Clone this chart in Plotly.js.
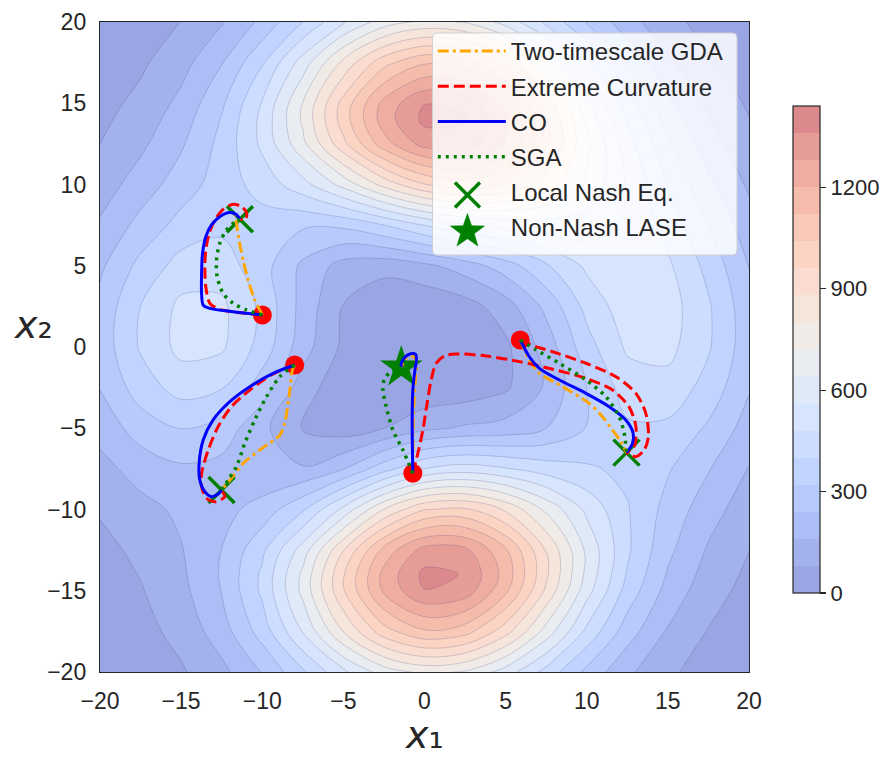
<!DOCTYPE html>
<html><head><meta charset="utf-8">
<script src="https://cdn.plot.ly/plotly-3.0.1.min.js"></script>
<style>html,body{margin:0;padding:0;background:#fff;} #chart{width:891px;height:760px;}</style>
</head><body><div id="chart"></div>
<script>
// grid of the surface (x1 columns, x2 rows)
const gridX = [-20,-17.5,-15,-12.5,-10,-7.5,-5,-2.5,0,2.5,5,7.5,10,12.5,15,17.5,20];
const gridY = [-20,-17.5,-15,-14,-12.5,-10,-7.5,-5,-2.5,0,2.5,5,7.5,10,12.5,14,15,17.5,20];
const surface = [
  [14,33,70,138,244,387,545,677,740,711,602,449,298,176,94,45,20],
  [24,52,106,202,355,565,803,1008,1111,1075,914,688,461,277,152,76,35],
  [38,74,136,243,416,662,953,1215,1358,1327,1138,865,591,368,211,112,55],
  [45,83,145,248,415,658,953,1226,1380,1356,1169,894,618,392,232,128,65],
  [57,98,155,241,382,598,877,1148,1312,1302,1132,878,623,413,258,151,81],
  [88,134,176,213,271,389,582,803,957,975,869,703,541,406,292,194,115],
  [133,193,227,214,175,167,237,368,483,519,487,441,411,382,328,245,156],
  [189,276,321,286,181,74,38,80,141,172,190,240,324,388,383,308,204],
  [243,360,432,405,278,121,21,1,15,28,67,171,321,436,451,370,247],
  [271,409,504,493,368,194,63,9,0,9,63,194,368,493,504,409,271],
  [263,400,499,497,381,211,76,17,15,45,122,261,425,528,518,410,267],
  [224,343,432,439,353,223,129,108,141,199,281,390,496,541,494,375,238],
  [170,266,348,382,364,331,337,399,483,549,587,605,600,550,450,319,194],
  [120,197,280,358,433,530,668,829,957,1001,954,844,704,551,397,257,147],
  [80,143,229,344,497,699,938,1167,1312,1321,1193,979,738,516,333,196,104],
  [62,117,201,325,502,734,1000,1240,1380,1370,1215,970,705,470,288,162,82],
  [52,101,181,306,486,723,990,1226,1358,1338,1175,926,660,430,256,140,69],
  [31,66,130,235,391,597,822,1013,1111,1081,934,719,497,310,175,90,42],
  [17,39,81,152,260,401,553,679,740,714,610,464,314,191,104,51,23]
];
const bandColors = ['rgb(154,165,227)','rgb(163,178,237)','rgb(172,190,245)','rgb(183,202,251)',
  'rgb(193,212,255)','rgb(204,221,255)','rgb(215,228,253)','rgb(224,233,248)','rgb(233,236,241)',
  'rgb(240,235,231)','rgb(246,229,219)','rgb(250,221,208)','rgb(251,212,196)','rgb(249,201,184)',
  'rgb(245,188,172)','rgb(239,173,162)','rgb(231,157,151)','rgb(220,137,142)'];
const levelMin = 0, levelMax = 1440, levelStep = 80;
const cbTicks = [0,300,600,900,1200];
const axisTicks = [-20,-15,-10,-5,0,5,10,15,20];

// start points, equilibria
const startX = [-9.99,-8.0,-0.72,5.9];
const startY = [1.97,-1.11,-7.77,0.43];
const nashX = [-11.38,-12.51,12.45];
const nashY = [7.86,-8.8,-6.5];
const laseX = [-1.43];
const laseY = [-1.25];

// trajectories (segments separated by null)
const gdaX = [-9.99,-10.46,-10.87,-11.18,-11.43,-11.59,-11.63,-11.38,null,-8.0,-8.14,-8.35,-8.62,-8.92,-10.15,-11.18,-11.9,-12.51,null,-0.72,-0.68,-0.55,-0.5,-0.7,-1.05,-1.3,-1.43,null,5.9,6.46,7.08,8.51,10.15,10.97,11.59,12.1,12.45];
const gdaY = [1.97,2.89,4.12,5.35,6.58,7.61,8.12,7.86,null,-1.11,-1.42,-3.06,-4.7,-5.42,-6.34,-7.16,-8.08,-8.8,null,-7.77,-4.0,-1.8,-0.9,-0.55,-0.6,-0.95,-1.25,null,0.43,-0.8,-1.62,-2.44,-3.47,-4.29,-5.11,-5.83,-6.5];
const ecX = [-9.99,-11.38,-12.62,-13.23,-13.48,-13.54,-13.48,-13.27,-12.92,-12.41,-11.79,-11.28,-10.97,-11.02,-11.38,null,-8.0,-9.44,-10.77,-11.9,-12.72,-13.33,-13.74,-13.74,-13.44,-12.92,-12.31,-12.51,null,-0.72,-0.41,-0.1,0.16,0.41,0.72,1.23,1.95,3.8,5.85,7.9,9.95,11.59,12.6,13.03,12.92,12.45,null,5.9,6.87,7.9,9.95,11.8,13.03,13.64,13.8,13.54,13.03,12.45];
const ecY = [1.97,2.11,2.32,2.69,3.71,4.94,5.97,7.0,7.82,8.47,8.78,8.64,8.27,7.86,7.86,null,-1.11,-1.72,-2.65,-3.67,-4.9,-6.34,-7.77,-8.6,-9.31,-9.52,-9.21,-8.8,null,-7.77,-6.54,-5.11,-3.47,-2.03,-1.0,-0.55,-0.43,-0.55,-0.9,-1.37,-1.93,-2.65,-3.67,-4.9,-6.13,-6.5,null,0.43,0.02,-0.29,-1.0,-1.83,-2.85,-4.08,-5.52,-6.34,-6.75,-6.5];
const coX = [-9.99,-11.79,-13.23,-13.64,-13.74,-13.74,-13.68,-13.48,-13.13,-12.62,-12.0,-11.6,-11.38,null,-8.0,-9.33,-10.77,-12.0,-13.03,-13.64,-13.89,-13.85,-13.54,-13.13,-12.72,-12.51,null,-0.72,-0.76,-0.72,-0.6,-0.5,-0.55,-0.85,-1.2,-1.43,-1.43,null,5.9,6.46,7.08,8.31,9.95,11.38,12.41,12.86,12.82,12.45];
const coY = [1.97,2.17,2.38,2.58,3.30,4.53,5.77,6.79,7.51,8.02,8.27,8.15,7.86,null,-1.11,-1.62,-2.44,-3.36,-4.49,-5.72,-7.16,-8.18,-8.9,-9.21,-9.05,-8.8,null,-7.77,-4.7,-2.65,-1.5,-0.8,-0.45,-0.42,-0.62,-1.0,-1.25,null,0.43,-0.6,-1.31,-2.03,-2.85,-3.67,-4.49,-5.31,-5.93,-6.5];
const sgaX = [-9.99,-10.97,-11.79,-12.41,-12.78,-12.82,-12.62,-12.21,-11.79,-11.38,null,-8.0,-8.92,-9.74,-10.46,-11.08,-11.59,-12.1,-12.51,null,-0.72,-1.33,-1.95,-2.36,-2.56,-2.46,-2.05,-1.43,null,5.9,6.87,8.31,9.95,11.18,12.0,12.31,12.45];
const sgaY = [1.97,2.28,2.69,3.30,4.33,5.35,6.38,7.2,7.61,7.86,null,-1.11,-1.83,-3.06,-4.49,-5.93,-7.36,-8.18,-8.8,null,-7.77,-6.34,-5.11,-3.67,-2.65,-1.93,-1.52,-1.25,null,0.43,-0.18,-1.0,-2.03,-3.06,-4.29,-5.31,-6.5];

const nBands = bandColors.length;
const contourScale = bandColors.map((c, k) => [k / (nBands - 1), c]);
const barScale = [];
bandColors.forEach((c, k) => { barScale.push([k / nBands, c]); barScale.push([(k + 1) / nBands, c]); });

const FONT = 'Arial, "Liberation Sans", sans-serif';
const TXT = '#262626';
const GREEN = 'green';

// ---- legend frame & large legend glyphs (layout decoration, in pixel units of the page) ----
const plotL = 100, plotT = 22, plotW = 650, plotH = 650;
const px2x = p => (p - plotL) / plotW;
const px2y = p => (plotT + plotH - p) / plotH;
function roundedBox(l, t, r, b, rad) {
  const x0 = px2x(l), x1 = px2x(r), y0 = px2y(b), y1 = px2y(t), rx = rad / plotW, ry = rad / plotH;
  return `M${x0+rx},${y1} L${x1-rx},${y1} Q${x1},${y1} ${x1},${y1-ry} L${x1},${y0+ry} Q${x1},${y0} ${x1-rx},${y0} ` +
         `L${x0+rx},${y0} Q${x0},${y0} ${x0},${y0+ry} L${x0},${y1-ry} Q${x0},${y1} ${x0+rx},${y1} Z`;
}
function starPath(cx, cy, R, r) {
  let s = '';
  for (let i = 0; i < 10; i++) {
    const a = (-90 + 36 * i) * Math.PI / 180, rad = i % 2 ? r : R;
    s += (i ? ' L' : 'M') + px2x(cx + rad * Math.cos(a)) + ',' + px2y(cy + rad * Math.sin(a));
  }
  return s + ' Z';
}
const legendSymX = 468, nashRowY = 195, laseRowY = 230, xHalf = 12.5;
const shapes = [
  {type: 'path', xref: 'paper', yref: 'paper', path: roundedBox(433, 33, 738, 255, 5),
   fillcolor: 'rgba(255,255,255,0.82)', line: {color: '#cfcfcf', width: 1}, layer: 'above'},
  {type: 'line', xref: 'paper', yref: 'paper', x0: px2x(legendSymX - xHalf), x1: px2x(legendSymX + xHalf),
   y0: px2y(nashRowY - xHalf), y1: px2y(nashRowY + xHalf), line: {color: GREEN, width: 3.5}, layer: 'above'},
  {type: 'line', xref: 'paper', yref: 'paper', x0: px2x(legendSymX - xHalf), x1: px2x(legendSymX + xHalf),
   y0: px2y(nashRowY + xHalf), y1: px2y(nashRowY - xHalf), line: {color: GREEN, width: 3.5}, layer: 'above'},
  {type: 'path', xref: 'paper', yref: 'paper', path: starPath(legendSymX, laseRowY + 1.5, 18, 7.2),
   fillcolor: GREEN, line: {color: GREEN, width: 0.5}, layer: 'above'}
];

const data = [
  {type: 'contour', x: gridX, y: gridY, z: surface, colorscale: contourScale, showscale: false,
   autocontour: false, contours: {coloring: 'fill', start: levelMin + levelStep, end: levelMax - levelStep, size: levelStep},
   line: {width: 0.7, color: 'rgba(60,60,115,0.3)', smoothing: 1}, hoverinfo: 'skip', showlegend: false},
  {type: 'heatmap', x: [100, 101], y: [100], z: [[levelMin, levelMax]], zmin: levelMin, zmax: levelMax,
   colorscale: barScale, showscale: true, hoverinfo: 'skip', showlegend: false,
   colorbar: {x: 1.066, xanchor: 'left', xpad: 0, y: 0.496, yanchor: 'middle', len: 0.749, lenmode: 'fraction', ypad: 0,
     thickness: 27, outlinewidth: 1.2, outlinecolor: TXT, tickvals: cbTicks, ticks: 'outside', ticklen: 6,
     tickwidth: 1.2, tickcolor: TXT, tickfont: {family: FONT, size: 22, color: TXT}}},
  {type: 'scatter', mode: 'markers', x: startX, y: startY, marker: {color: 'red', size: 19}, showlegend: false, hoverinfo: 'skip'},
  {type: 'scatter', mode: 'markers', name: 'Local Nash Eq.', x: nashX, y: nashY, showlegend: false,
   marker: {symbol: 'x-thin', size: 26, line: {color: GREEN, width: 3.5}, color: GREEN}},
  {type: 'scatter', mode: 'markers', name: 'Non-Nash LASE', x: laseX, y: laseY, showlegend: false,
   marker: {symbol: 'star', size: 32, color: GREEN}},
  {type: 'scatter', mode: 'lines', name: 'Two-timescale GDA', x: gdaX, y: gdaY, legendgroup: 'g1', legendrank: 1,
   line: {color: 'orange', width: 3, dash: '11px,4px,3px,4px', shape: 'spline', smoothing: 0.8}},
  {type: 'scatter', mode: 'lines', name: 'Extreme Curvature', x: ecX, y: ecY, legendgroup: 'g2', legendrank: 2,
   line: {color: 'red', width: 3, dash: '11px,5px', shape: 'spline', smoothing: 0.8}},
  {type: 'scatter', mode: 'lines', name: 'CO', x: coX, y: coY, legendgroup: 'g3', legendrank: 3,
   line: {color: 'blue', width: 3, shape: 'spline', smoothing: 0.8}},
  {type: 'scatter', mode: 'lines', name: 'SGA', x: sgaX, y: sgaY, legendgroup: 'g4', legendrank: 4,
   line: {color: GREEN, width: 3.5, dash: '3px,5px', shape: 'spline', smoothing: 0.8}},
  // legend entries for the two marker series (their large glyphs are drawn as shapes)
  {type: 'scatter', mode: 'markers', name: 'Local Nash Eq.', x: [null], y: [null], legendgroup: 'g5', legendrank: 5,
   marker: {color: 'rgba(0,0,0,0)', size: 1}, hoverinfo: 'skip'},
  {type: 'scatter', mode: 'markers', name: 'Non-Nash LASE', x: [null], y: [null], legendgroup: 'g6', legendrank: 6,
   marker: {color: 'rgba(0,0,0,0)', size: 1}, hoverinfo: 'skip'}
];

const axisCommon = {range: [-20, 20], tickvals: axisTicks, showgrid: false, zeroline: false,
  showline: true, mirror: true, linecolor: TXT, linewidth: 1.2, ticks: 'outside',
  tickcolor: 'rgba(0,0,0,0)', tickfont: {family: FONT, size: 23, color: TXT}};

const layout = {
  width: 891, height: 760, margin: {l: 100, r: 141, t: 22, b: 88},
  paper_bgcolor: '#fff', plot_bgcolor: '#fff',
  xaxis: Object.assign({}, axisCommon, {ticklen: 8}),
  yaxis: Object.assign({}, axisCommon, {ticklen: 8}),
  showlegend: true,
  legend: {x: 0.512, y: 0.9892, xanchor: 'left', yanchor: 'top', bgcolor: 'rgba(0,0,0,0)',
    borderwidth: 0, font: {family: FONT, size: 24, color: TXT},
    traceorder: 'grouped', tracegroupgap: 1, itemwidth: 68},
  shapes: shapes,
  annotations: [
    {text: '<i>x</i>\u2081', xref: 'paper', yref: 'paper', x: 0.5, y: -0.0974, xanchor: 'center', yanchor: 'middle',
     showarrow: false, font: {family: 'DejaVu Sans', size: 38, color: TXT}},
    {text: '<i>x</i>\u2082', xref: 'paper', yref: 'paper', x: -0.103, y: 0.534, xanchor: 'center', yanchor: 'middle',
     showarrow: false, font: {family: 'DejaVu Sans', size: 38, color: TXT}}
  ]
};

Plotly.newPlot('chart', data, layout, {displayModeBar: false, staticPlot: true});
</script>
</body></html>
